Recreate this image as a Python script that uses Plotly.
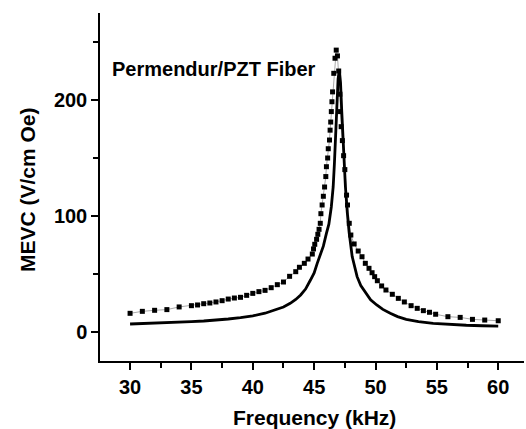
import plotly.graph_objects as go

# Experimental data (squares)
freq_exp = [30.0, 31.0, 32.0, 33.0, 34.0, 35.0, 35.5, 36.0, 36.5, 37.0, 37.5, 38.0, 38.5, 39.0,
            39.5, 40.0, 40.5, 41.0, 41.5, 42.0, 42.5, 43.0, 43.5, 43.8, 44.2, 44.5, 44.85, 44.95,
            45.05, 45.2, 45.3, 45.4, 45.5, 45.55, 45.65, 45.75, 45.85, 45.95, 46.0, 46.1, 46.15,
            46.25, 46.3, 46.35, 46.4, 46.45, 46.5, 46.6, 46.7, 46.8, 46.9, 47.0, 47.1, 47.15,
            47.2, 47.3, 47.4, 47.5, 47.64, 47.72, 47.86, 47.99, 48.26, 48.59, 48.9, 49.17, 49.47,
            49.72, 49.93, 50.15, 50.5, 50.85, 51.37, 51.86, 52.35, 52.9, 53.4, 53.9, 54.4, 54.9,
            55.9, 56.9, 57.9, 58.9, 60.0]
mevc_exp = [16.1, 17.8, 18.7, 19.3, 21.6, 22.7, 23.3, 24.4, 25.0, 25.9, 27.0, 28.4, 29.3, 29.9,
            31.6, 33.3, 34.8, 35.9, 38.2, 40.8, 43.1, 48.0, 52.0, 55.8, 59.2, 62.9, 67.2, 71.6,
            75.6, 79.9, 84.2, 88.5, 93.7, 102.0, 109.5, 117.0, 125.0, 134.0, 142.5, 150.0, 158.0,
            165.5, 174.0, 181.0, 190.0, 198.5, 207.0, 223.0, 236.0, 243.0, 238.0, 225.0, 205.0,
            190.0, 177.0, 165.0, 152.0, 140.0, 118.0, 109.5, 93.7, 83.6, 75.9, 69.8, 64.9, 59.2,
            54.9, 51.1, 47.7, 44.2, 39.7, 36.2, 32.5, 29.0, 25.9, 22.7, 20.4, 18.4, 17.0, 15.3,
            13.2, 12.6, 10.9, 10.3, 9.7]

# Calculated curve (solid line)
freq_calc = [30.0, 31.0, 32.0, 33.0, 34.0, 35.0, 36.0, 37.0, 38.0, 39.0, 40.0, 41.0, 41.7, 42.5,
             43.05, 43.5, 43.9, 44.3, 44.7, 45.0, 45.25, 45.5, 45.75, 46.0, 46.2, 46.4, 46.55,
             46.65, 46.75, 46.85, 46.95, 47.05, 47.15, 47.25, 47.4, 47.55, 47.7, 47.85, 48.1,
             48.3, 48.5, 48.8, 49.2, 49.6, 50.1, 50.6, 51.2, 51.8, 52.5, 53.5, 54.7, 56.0, 57.4,
             58.7, 60.0]
mevc_calc = [6.9, 7.2, 7.5, 7.9, 8.4, 8.9, 9.5, 10.2, 11.2, 12.4, 13.9, 16.2, 18.4, 21.5,
             24.7, 28.0, 31.9, 37.0, 44.8, 51.0, 59.2, 66.0, 74.0, 85.0, 93.0, 108.0, 125.0,
             145.0, 170.0, 195.0, 218.0, 226.0, 215.0, 190.0, 155.0, 125.0, 103.0, 86.0, 65.0,
             55.0, 47.7, 40.0, 33.3, 27.8, 23.3, 19.5, 16.1, 13.3, 10.9, 8.9, 7.5, 6.5, 5.8,
             5.4, 5.1]

x_title = "Frequency (kHz)"
y_title = "MEVC (V/cm Oe)"
label_text = "Permendur/PZT Fiber"

FONT = "Arial, Liberation Sans, sans-serif"

fig = go.Figure()
fig.add_trace(go.Scatter(
    x=freq_exp, y=mevc_exp, mode="lines+markers",
    line=dict(color="#aaaaaa", width=1),
    marker=dict(symbol="square", size=5, color="black"),
    showlegend=False,
))
fig.add_trace(go.Scatter(
    x=freq_calc, y=mevc_calc, mode="lines",
    line=dict(color="black", width=2.8),
    showlegend=False,
))

fig.add_annotation(
    x=28.37, y=227, xref="x", yref="y", text=label_text, showarrow=False,
    xanchor="left", yanchor="middle",
    font=dict(family=FONT, size=20, color="black", weight="bold"),
)
fig.add_annotation(
    x=(314 - 100) / 424, y=(361 - 417) / 348, xref="paper", yref="paper",
    text=x_title, showarrow=False, xanchor="center", yanchor="middle",
    font=dict(family=FONT, size=21, color="black", weight="bold"),
)
fig.add_annotation(
    x=(27 - 100) / 424, y=(361 - 190) / 348, xref="paper", yref="paper",
    text=y_title, showarrow=False, xanchor="center", yanchor="middle", textangle=-90,
    font=dict(family=FONT, size=21, color="black", weight="bold"),
)

axis_common = dict(
    showline=True, linecolor="black", linewidth=1.5,
    ticks="outside", ticklen=7, tickwidth=1.5, tickcolor="black",
    showgrid=False, zeroline=False, mirror=False, automargin=False,
    tickfont=dict(family=FONT, size=20, color="black", weight="bold"),
)

fig.update_xaxes(
    range=[27.55, 62.1], tick0=30, dtick=5,
    minor=dict(dtick=2.5, tick0=30, ticks="outside", ticklen=5, tickwidth=1.5, tickcolor="black"),
    **axis_common,
)
fig.update_yaxes(
    range=[-25, 275], tick0=0, dtick=100,
    minor=dict(dtick=50, tick0=0, ticks="outside", ticklen=5, tickwidth=1.5, tickcolor="black"),
    **axis_common,
)

fig.update_layout(
    width=526, height=429,
    margin=dict(l=100, r=2, t=13, b=68),
    paper_bgcolor="white", plot_bgcolor="white",
)

fig.write_html("out.html", config={"displayModeBar": False},
               post_script="document.body.style.margin='0';")
